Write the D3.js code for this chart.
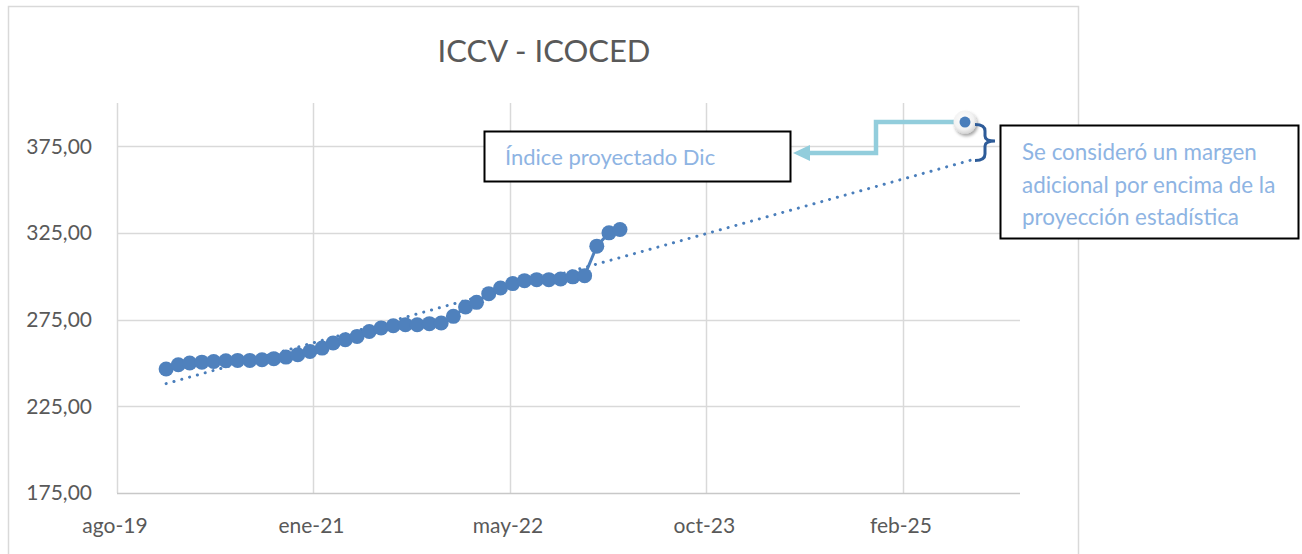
<!DOCTYPE html>
<html>
<head>
<meta charset="utf-8">
<script src="https://cdn.jsdelivr.net/npm/d3@7"></script>
<style>
	body { margin: 0; background: #fff; }
	text { font-family: Lato, "Open Sans", sans-serif; }
</style>
</head>
<body>
<div id="chart"></div>
<script>

// monthly index values, ene-20 .. mar-23
const months = [
	"2020-01","2020-02","2020-03","2020-04","2020-05","2020-06","2020-07","2020-08","2020-09","2020-10","2020-11","2020-12",
	"2021-01","2021-02","2021-03","2021-04","2021-05","2021-06","2021-07","2021-08","2021-09","2021-10","2021-11","2021-12",
	"2022-01","2022-02","2022-03","2022-04","2022-05","2022-06","2022-07","2022-08","2022-09","2022-10","2022-11","2022-12",
	"2023-01","2023-02","2023-03"
];
const values = [
	246.5,249.0,250.0,250.5,250.9,251.3,251.5,251.5,251.9,252.5,253.4,254.8,
	256.7,258.6,261.5,263.4,265.3,268.2,270.2,271.5,272.1,272.1,272.7,273.1,
	276.9,282.3,285.0,290.0,293.3,295.8,297.5,298.1,298.1,298.5,299.7,300.4,
	317.4,325.1,327.0
];
const yTicks = [175,225,275,325,375];
const axisStart = "2019-08-29";
const axisDays = 2298;
const tickStepDays = 500;
const trendEnd = "2025-08-12";
const projDate = "2025-07-26";
const projValue = 389;

const title = "ICCV - ICOCED";
const note1 = "Índice proyectado Dic";
const note2 = ["Se consideró un margen","adicional por encima de la","proyección estadística"];

const es = d3.timeFormatLocale({
	dateTime: "%A, %e de %B de %Y, %X", date: "%d/%m/%Y", time: "%H:%M:%S", periods: ["AM","PM"],
	days: ["domingo","lunes","martes","miércoles","jueves","viernes","sábado"],
	shortDays: ["dom","lun","mar","mié","jue","vie","sáb"],
	months: ["enero","febrero","marzo","abril","mayo","junio","julio","agosto","septiembre","octubre","noviembre","diciembre"],
	shortMonths: ["ene","feb","mar","abr","may","jun","jul","ago","sep","oct","nov","dic"]
});
const fmtX = es.utcFormat("%b-%y");
const fmtY = d => d3.format(".2f")(d).replace(".", ",");
const parseM = d3.utcParse("%Y-%m");
const parseD = d3.utcParse("%Y-%m-%d");

const W = 1302, H = 554;
const m = {t:103, r:282, b:61, l:117};

const d0 = parseD(axisStart);
const x = d3.scaleUtc()
	.domain([d0, d3.utcDay.offset(d0, axisDays)])
	.range([m.l, W - m.r]);
const y = d3.scaleLinear()
	.domain([175, 400])
	.range([H - m.b, m.t]);

const data = months.map((d,i) => ({date: parseM(d), value: values[i]}));

// linear trend (days as x), like the spreadsheet trendline
const dayOf = d => (d - d0) / 864e5;
const mx = d3.mean(data, d => dayOf(d.date)), my = d3.mean(data, d => d.value);
const slope = d3.sum(data, d => (dayOf(d.date)-mx)*(d.value-my)) / d3.sum(data, d => (dayOf(d.date)-mx)**2);
const icpt = my - slope*mx;
const trendDates = [data[0].date, parseD(trendEnd)];

const svg = d3.select("#chart").append("svg")
	.attr("width", W)
	.attr("height", H);

svg.append("rect")
	.attr("x", 8.5).attr("y", 6.5)
	.attr("width", 1070).attr("height", 620)
	.attr("fill", "#fff")
	.attr("stroke", "#D9D9D9")
	.attr("stroke-width", 1.5);

const defs = svg.append("defs");
const sh = defs.append("filter").attr("id","shadow").attr("x","-50%").attr("y","-50%").attr("width","200%").attr("height","200%");
sh.append("feDropShadow").attr("dx",1.5).attr("dy",2.5).attr("stdDeviation",1.8).attr("flood-color","#000").attr("flood-opacity",0.35);
const gr = defs.append("radialGradient").attr("id","knob").attr("cx","45%").attr("cy","40%").attr("r","60%");
gr.append("stop").attr("offset","0%").attr("stop-color","#ffffff");
gr.append("stop").attr("offset","70%").attr("stop-color","#F2F2F2");
gr.append("stop").attr("offset","100%").attr("stop-color","#D6D6D6");

svg.append("text")
	.attr("x", 544).attr("y", 62)
	.attr("text-anchor", "middle")
	.attr("font-size", 31)
	.attr("fill", "#595959")
	.text(title);

// grid
const xTicks = d3.range(0, axisDays, tickStepDays).map(k => d3.utcDay.offset(d0, k));

svg.append("g").selectAll("line")
	.data(yTicks.slice(1))
	.enter().append("line")
	.attr("x1", m.l).attr("x2", W - m.r)
	.attr("y1", d => Math.round(y(d)) + 0.5).attr("y2", d => Math.round(y(d)) + 0.5)
	.attr("stroke", "#D9D9D9").attr("stroke-width", 1.5);

svg.append("g").selectAll("line")
	.data(xTicks)
	.enter().append("line")
	.attr("x1", d => Math.round(x(d)) + 0.5).attr("x2", d => Math.round(x(d)) + 0.5)
	.attr("y1", m.t).attr("y2", y(175))
	.attr("stroke", "#D9D9D9").attr("stroke-width", 1.5);

svg.append("line")
	.attr("x1", m.l).attr("x2", W - m.r)
	.attr("y1", Math.round(y(175)) + 0.5).attr("y2", Math.round(y(175)) + 0.5)
	.attr("stroke", "#C8C8C8").attr("stroke-width", 1.5);

svg.append("g").selectAll("text")
	.data(yTicks)
	.enter().append("text")
	.attr("x", 92).attr("y", d => y(d))
	.attr("dy", "0.35em")
	.attr("text-anchor", "end")
	.attr("font-size", 21)
	.attr("fill", "#595959")
	.text(fmtY);

svg.append("g").selectAll("text")
	.data(xTicks)
	.enter().append("text")
	.attr("x", d => x(d) - 2).attr("y", 533)
	.attr("text-anchor", "middle")
	.attr("font-size", 21)
	.attr("fill", "#595959")
	.text(fmtX);

// trendline
svg.append("path")
	.datum(trendDates)
	.attr("d", d3.line().x(d => x(d)).y(d => y(icpt + slope*dayOf(d))))
	.attr("fill", "none")
	.attr("stroke", "#4A7EBB")
	.attr("stroke-width", 3)
	.attr("stroke-linecap", "round")
	.attr("stroke-dasharray", "0.1 8");

// series
svg.append("path")
	.datum(data)
	.attr("d", d3.line().x(d => x(d.date)).y(d => y(d.value)))
	.attr("fill", "none")
	.attr("stroke", "#4F81BD")
	.attr("stroke-width", 3);

svg.append("g").selectAll("circle")
	.data(data)
	.enter().append("circle")
	.attr("cx", d => x(d.date)).attr("cy", d => y(d.value))
	.attr("r", 7.5)
	.attr("fill", "#4F81BD");

// projected point + annotations
const px = x(parseD(projDate)), py = y(projValue);

svg.append("path")
	.attr("d", `M${px-9},${py} H876 V153 H806`)
	.attr("fill", "none")
	.attr("stroke", "#92CDDC")
	.attr("stroke-width", 4.5);
svg.append("path")
	.attr("d", "M793,153 L810,145 L810,161 Z")
	.attr("fill", "#92CDDC");

svg.append("circle")
	.attr("cx", px).attr("cy", py).attr("r", 11.5)
	.attr("fill", "url(#knob)")
	.attr("filter", "url(#shadow)");
svg.append("circle")
	.attr("cx", px).attr("cy", py).attr("r", 5.5)
	.attr("fill", "#4A7EBB");

svg.append("path")
	.attr("d", "M975,124.5 Q985,124.5 985,131 L985,136 Q985,141 995,141 Q985,141 985,146 L985,154 Q985,160.5 975,160.5")
	.attr("fill", "none")
	.attr("stroke", "#2E5C99")
	.attr("stroke-width", 3);

svg.append("rect")
	.attr("x", 484.5).attr("y", 131.5).attr("width", 306).attr("height", 50)
	.attr("fill", "#fff").attr("stroke", "#000").attr("stroke-width", 2);
svg.append("text")
	.attr("x", 505).attr("y", 165)
	.attr("font-size", 22)
	.attr("fill", "#8EB4E3")
	.text(note1);

svg.append("rect")
	.attr("x", 1000.5).attr("y", 125.5).attr("width", 298).attr("height", 113)
	.attr("fill", "#fff").attr("stroke", "#000").attr("stroke-width", 2);
svg.append("g").selectAll("text")
	.data(note2)
	.enter().append("text")
	.attr("x", 1022).attr("y", (d,i) => 160 + i*32.5)
	.attr("font-size", 22.4)
	.attr("fill", "#8EB4E3")
	.text(d => d);

</script>
</body>
</html>
